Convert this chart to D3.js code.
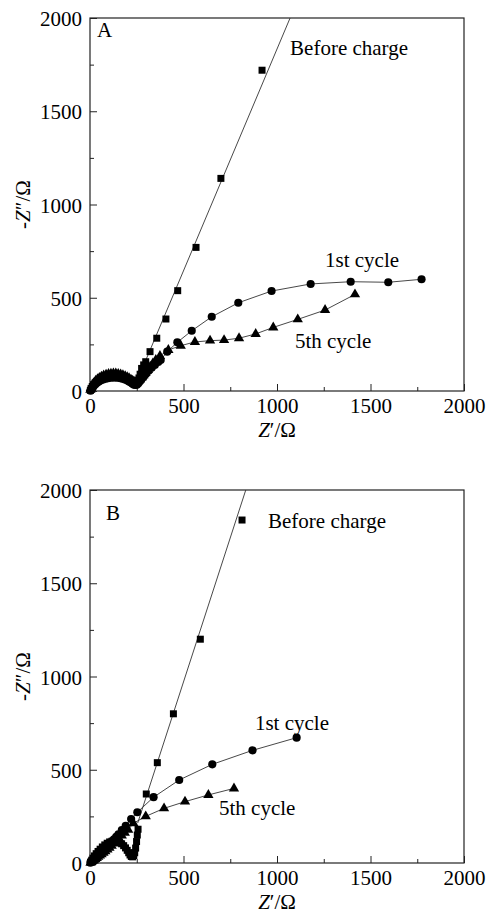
<!DOCTYPE html>
<html>
<head>
<meta charset="utf-8">
<script src="https://cdn.jsdelivr.net/npm/d3@7"></script>
<style>
  body { margin: 0; background: #fff; }
  svg text { font-family: "Times New Roman", "Liberation Serif", Times, "DejaVu Serif", serif !important; fill: #000; }
</style>
</head>
<body>
<svg id="chart"></svg>
<script>
// Tick values
const majorTicks = [0, 500, 1000, 1500, 2000];
const minorTicks = [250, 750, 1250, 1750];

// Panel A data [Z', -Z'']
const beforeA = [[2,4],[6,14],[12,24],[19,34],[27,43],[36,51],[46,58],[57,65],[69,71],[82,76],[95,80],[108,83],[121,85],[134,86],[147,85],[160,83],[172,80],[184,76],[195,71],[206,65],[216,59],[225,53],[233,48],[241,45],[249,46],[256,55],[262,70],[268,90],[276,121],[287,140],[298,157],[321,211],[357,283],[406,386],[469,538],[567,770],[700,1140],[920,1720]];
const beforeFitA = [[292,150],[1070,2000]];
const cycle1A = [[3,2],[8,10],[14,19],[21,28],[29,36],[38,44],[48,51],[59,57],[71,62],[84,66],[97,69],[110,71],[123,72],[136,72],[149,71],[162,69],[174,66],[186,62],[197,57],[208,51],[218,45],[227,39],[235,34],[243,32],[251,34],[259,42],[267,52],[276,64],[287,77],[300,92],[314,108],[330,125],[347,140],[365,156],[378,166],[413,211],[467,261],[544,323],[651,398],[793,473],[971,536],[1180,574],[1394,586],[1595,583],[1773,599]];
const cycle5A = [[2,6],[5,16],[10,26],[16,36],[23,46],[31,55],[40,63],[50,70],[61,77],[73,83],[86,88],[99,91],[112,93],[125,94],[138,94],[151,92],[164,89],[176,85],[188,80],[199,74],[209,68],[219,61],[228,55],[236,50],[244,47],[252,48],[259,54],[267,62],[276,72],[286,84],[297,98],[309,113],[322,130],[336,148],[352,166],[374,188],[419,220],[485,243],[561,263],[642,270],[717,273],[797,283],[886,306],[980,341],[1111,384],[1257,434],[1417,518]];

// Panel B data [Z', -Z'']
const beforeB = [[3,5],[9,15],[16,26],[24,38],[33,50],[43,62],[54,74],[66,86],[79,97],[92,106],[105,113],[118,117],[131,118],[144,116],[157,111],[169,103],[180,93],[190,81],[199,68],[207,55],[214,43],[221,35],[228,33],[234,40],[239,55],[244,80],[249,115],[253,150],[257,181],[301,370],[360,538],[446,800],[590,1200],[813,1839]];
const beforeFitB = [[255,214],[833,2000]];
const cycle1B = [[2,2],[7,8],[13,14],[19,20],[26,27],[33,34],[41,41],[49,49],[57,57],[66,65],[75,74],[85,83],[95,93],[106,104],[117,116],[128,127],[140,140],[152,154],[170,177],[191,200],[220,236],[253,272],[340,353],[477,445],[654,529],[869,604],[1105,672]];
const cycle5B = [[3,1],[8,5],[14,10],[21,15],[28,21],[36,27],[44,33],[53,40],[62,47],[72,55],[82,63],[93,72],[104,82],[116,93],[128,105],[141,118],[155,132],[170,147],[186,162],[204,178],[232,213],[298,250],[396,293],[508,329],[633,365],[770,400]];

// Label texts
const seriesNames = ["Before charge", "1st cycle", "5th cycle"];
const panelNames = ["A", "B"];

const width = 488, height = 915;
const font = "'Times New Roman', 'Liberation Serif', Times, serif";
const svg = d3.select("#chart").attr("width", width).attr("height", height);

const panels = [
  { name: panelNames[0], top: 18, bottom: 391, before: beforeA, fit: beforeFitA, c1: cycle1A, c5: cycle5A,
    labels: [[1070, 1802], [1257, 665], [1096, 231]], letter: [37, 1898] },
  { name: panelNames[1], top: 490, bottom: 863, before: beforeB, fit: beforeFitB, c1: cycle1B, c5: cycle5B,
    labels: [[952, 1796], [882, 713], [690, 257]], letter: [86, 1839] }
];

const left = 90, right = 464;

panels.forEach(p => {
  const x = d3.scaleLinear().domain([0, 2000]).range([left, right]);
  const y = d3.scaleLinear().domain([0, 2000]).range([p.bottom, p.top]);
  const g = svg.append("g").attr("font-family", font);

  // axes with inward ticks
  const yAx = g.append("g").attr("transform", `translate(${left},0)`)
    .call(d3.axisLeft(y).tickValues(majorTicks).tickSize(-7).tickPadding(8).tickFormat(d3.format("d")));
  g.append("g").attr("transform", `translate(${left},0)`)
    .call(d3.axisLeft(y).tickValues(minorTicks).tickSize(-4).tickFormat(""));
  const xAx = g.append("g").attr("transform", `translate(0,${p.bottom})`)
    .call(d3.axisBottom(x).tickValues(majorTicks).tickSize(-7).tickPadding(7).tickFormat(d3.format("d")));
  g.append("g").attr("transform", `translate(0,${p.bottom})`)
    .call(d3.axisBottom(x).tickValues(minorTicks).tickSize(-4).tickFormat(""));
  g.selectAll(".domain").remove();
  g.selectAll("g").attr("font-family", font);
  g.selectAll(".tick line").attr("stroke", "#222").attr("stroke-width", 1);
  g.selectAll(".tick text").style("font-size", "21px").attr("fill", "#000");
  yAx.selectAll(".tick text").attr("dy", "0.36em");

  // frame
  g.append("rect").attr("x", left).attr("y", p.top)
    .attr("width", right - left).attr("height", p.bottom - p.top)
    .attr("fill", "none").attr("stroke", "#222").attr("stroke-width", 1.2);

  const line = d3.line().x(d => x(d[0])).y(d => y(d[1]));
  [p.fit, p.c1, p.c5].forEach(s => {
    g.append("path").datum(s).attr("d", line)
      .attr("fill", "none").attr("stroke", "#333").attr("stroke-width", 0.9);
  });

  const drawMarks = (s, type, size) => {
    g.selectAll(null).data(s).enter().append("path")
      .attr("d", d3.symbol().type(type).size(size))
      .attr("transform", d => `translate(${x(d[0])},${y(d[1])})`)
      .attr("fill", "#000");
  };
  drawMarks(p.before, d3.symbolSquare, 49);
  drawMarks(p.c1, d3.symbolCircle, 52);
  drawMarks(p.c5, d3.symbolTriangle, 46);

  // series annotations
  p.labels.forEach((l, i) => {
    g.append("text").attr("x", x(l[0])).attr("y", y(l[1]))
      .style("font-size", "21px").text(seriesNames[i]);
  });
  g.append("text").attr("x", x(p.letter[0])).attr("y", y(p.letter[1]))
    .style("font-size", "21px").text(p.name);

  // axis titles
  const xt = g.append("text").attr("x", (left + right) / 2).attr("y", p.bottom + 46)
    .attr("text-anchor", "middle").style("font-size", "21px");
  xt.append("tspan").style("font-style", "italic").text("Z");
  xt.append("tspan").text("′/Ω");

  const yt = g.append("text")
    .attr("transform", `translate(30,${(p.top + p.bottom) / 2}) rotate(-90)`)
    .attr("text-anchor", "middle").style("font-size", "21px");
  yt.append("tspan").text("-");
  yt.append("tspan").style("font-style", "italic").text("Z");
  yt.append("tspan").text("″/Ω");
});
</script>
</body>
</html>
